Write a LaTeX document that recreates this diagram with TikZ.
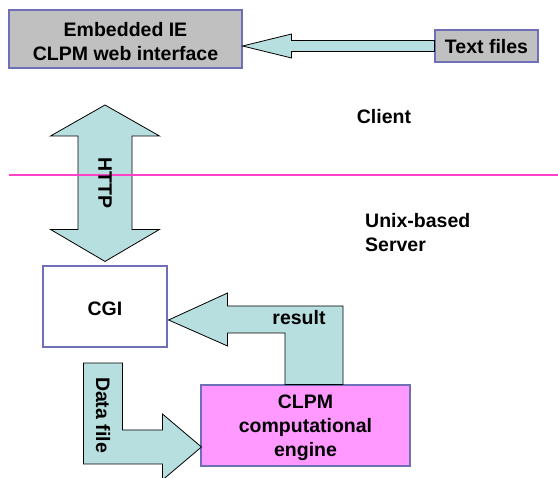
\documentclass[tikz,border=0pt]{standalone}
\usepackage{fontspec}
\setmainfont{Liberation Sans}
\usetikzlibrary{calc}
\definecolor{arrowfill}{HTML}{B8DFE0}
\definecolor{boxborder}{HTML}{6F6FB8}
\definecolor{boxgray}{HTML}{C0C0C0}
\definecolor{enginepink}{HTML}{FF99FF}
\definecolor{sepline}{HTML}{FF40C8}
\begin{document}
\begin{tikzpicture}[x=1pt,y=-1pt,
  every node/.style={font=\fontsize{19.5}{24}\selectfont\bfseries},
  box/.style={draw=boxborder, line width=1.1pt, inner sep=0pt},
  barrow/.style={draw=black, fill=arrowfill, line width=0.8pt, line join=miter},
  lbl/.style={align=center, inner sep=0pt}]
\useasboundingbox (0,0) rectangle (558,478);

% boxes
\node[box, fill=boxgray, minimum width=233pt, minimum height=58pt] (emb) at (125.5,39) {};
\node[box, fill=boxgray, minimum width=103pt, minimum height=32pt] (txt) at (486.5,46) {};
\node[box, fill=white, minimum width=124pt, minimum height=81pt] (cgi) at (105,306.5) {};
\node[box, fill=enginepink, minimum width=209pt, minimum height=81pt] (clpm) at (305.5,425.5) {};
\node[lbl] (embtxt) at ($(emb.center)+(0,2.5)$) {Embedded IE\\CLPM web interface};
\node[lbl] (txttxt) at ($(txt.center)+(0,1)$) {Text files};
\node[lbl] (cgitxt) at ($(cgi.center)+(0,2.5)$) {CGI};
\node[lbl] (clpmtxt) at ($(clpm.center)+(0,2.5)$) {CLPM\\computational\\engine};

% Text files -> Embedded IE
\coordinate (t1) at (emb.east |- txt.west);
\draw[barrow] (t1) -- ($(t1)+(49,-12)$) -- ($(t1)+(49,-5.5)$) -- ($(txt.west)+(0,-5.5)$)
  -- ($(txt.west)+(0,5.5)$) -- ($(t1)+(49,5.5)$) -- ($(t1)+(49,12)$) -- cycle;

% HTTP double arrow
\coordinate (htop) at (105,105);
\coordinate (hbot) at ($(cgi.north)+(0,-4)$);
\draw[barrow] (htop) -- ($(htop)+(54.5,31)$) -- ($(htop)+(27,31)$) -- ($(hbot)+(27,-32)$)
  -- ($(hbot)+(54.5,-32)$) -- (hbot) -- ($(hbot)+(-54.5,-32)$) -- ($(hbot)+(-27,-32)$)
  -- ($(htop)+(-27,31)$) -- ($(htop)+(-54.5,31)$) -- cycle;

% result arrow: CLPM -> CGI
\coordinate (r1) at ($(cgi.east)+(1,13.5)$);
\coordinate (rU) at ($(r1)+(59,-14)$);
\coordinate (rL) at ($(r1)+(59,13)$);
\coordinate (rR) at ($(clpm.north)+(37.5,0)$);
\coordinate (rI) at ($(clpm.north)+(-20.5,0)$);
\draw[barrow] (r1) -- ($(r1)+(59,-27)$) -- (rU) -- (rR |- rU) -- (rR) -- (rI)
  -- (rI |- rL) -- (rL) -- ($(r1)+(59,26)$) -- cycle;

% Data file arrow -> CLPM
\coordinate (d1) at ($(clpm.west)+(1,21.5)$);
\draw[barrow] (d1) -- ($(d1)+(-39,-33)$) -- ($(d1)+(-39,-17)$) -- ($(d1)+(-79,-17)$)
  -- ($(d1)+(-79,-84)$) -- ($(d1)+(-118,-84)$) -- ($(d1)+(-118,17)$) -- ($(d1)+(-39,17)$)
  -- ($(d1)+(-39,33)$) -- cycle;

% separator
\coordinate (sepL) at (9,175);
\coordinate (sepR) at (558,175);
\draw[sepline, line width=1.2pt] (sepL) -- (sepR);

% labels
\node[lbl, rotate=-90] (httplbl) at (105,183) {HTTP};
\node[lbl] (resultlbl) at (299,318) {result};
\node[lbl, rotate=-90] (datalbl) at (103,415) {Data file};
\node[lbl] (client) at (384,117) {Client};
\node[lbl, align=left, anchor=west] (server) at (365,232.5) {Unix-based\\Server};
\end{tikzpicture}
\end{document}
